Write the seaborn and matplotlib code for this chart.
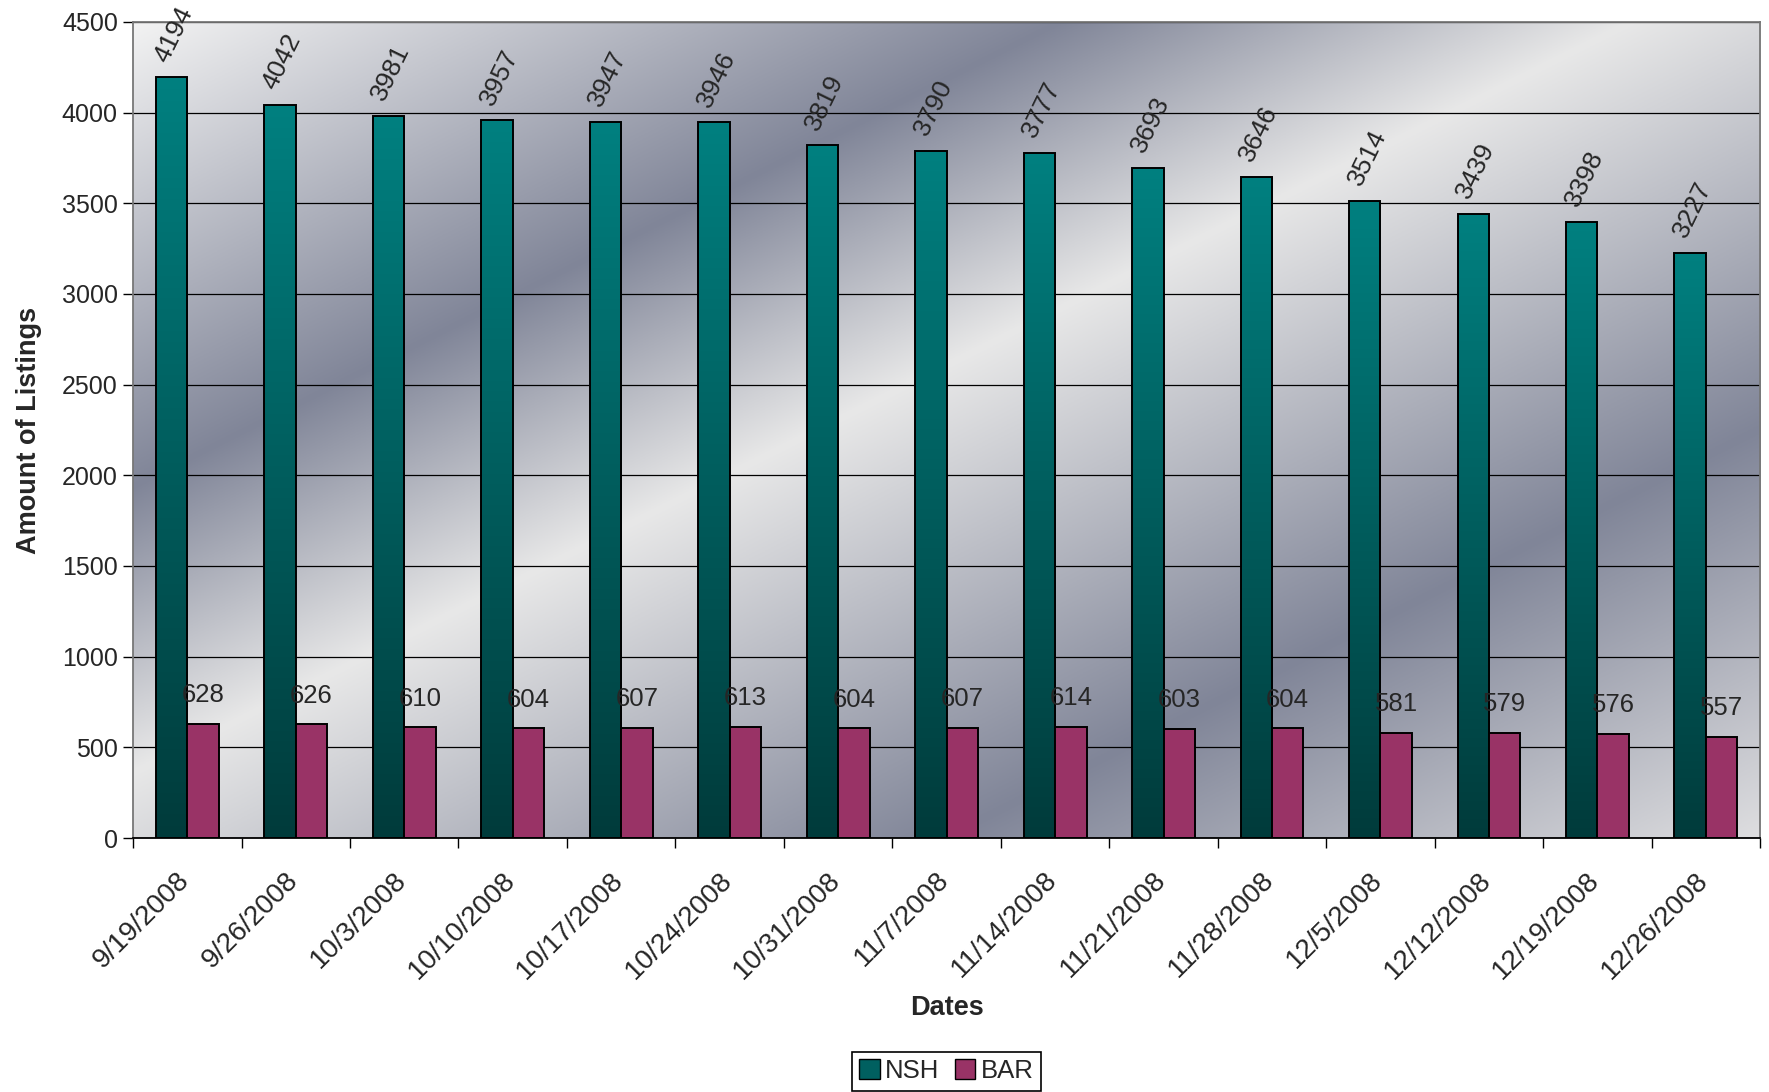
import numpy as np
import pandas as pd
import seaborn as sns
import matplotlib.pyplot as plt
from matplotlib.colors import LinearSegmentedColormap
from matplotlib.patches import Patch

# Weekly listing counts
dates = ['9/19/2008', '9/26/2008', '10/3/2008', '10/10/2008', '10/17/2008',
         '10/24/2008', '10/31/2008', '11/7/2008', '11/14/2008', '11/21/2008',
         '11/28/2008', '12/5/2008', '12/12/2008', '12/19/2008', '12/26/2008']
nsh = [4194, 4042, 3981, 3957, 3947, 3946, 3819, 3790, 3777, 3693,
       3646, 3514, 3439, 3398, 3227]
bar = [628, 626, 610, 604, 607, 613, 604, 607, 614, 603,
       604, 581, 579, 576, 557]
series = ['NSH', 'BAR']
yticks = list(range(0, 4501, 500))

df = pd.DataFrame({
    'date': dates * 2,
    'series': ['NSH'] * len(dates) + ['BAR'] * len(dates),
    'count': nsh + bar,
})

sns.set_style('white')
plt.rcParams['font.family'] = ['Liberation Sans', 'DejaVu Sans']

fig = plt.figure(figsize=(17.69, 10.92), dpi=100)
ax = fig.add_axes([0.0752, 0.2326, 0.9198, 0.7473])

# diagonal banded grey background (Excel style fill)
nx, ny = 600, 300
fx = np.linspace(0, 1, nx)[None, :]
fy = np.linspace(0, 1, ny)[:, None]
u = fx + fy
stops = [0.0, 0.57, 0.92, 1.5, 2.0]
cols = np.array([[243, 243, 243], [128, 133, 152], [232, 232, 232],
                 [128, 133, 152], [222, 222, 224]]) / 255.0
bg = np.stack([np.interp(u, stops, cols[:, i]) for i in range(3)], axis=-1)
ax.imshow(bg, extent=(0, 1, 0, 1), transform=ax.transAxes, aspect='auto',
          origin='upper', zorder=0)

sns.barplot(data=df, x='date', y='count', hue='series', hue_order=series,
            palette={'NSH': '#008080', 'BAR': '#993366'}, width=0.58,
            saturation=1, edgecolor='black', linewidth=1.4, legend=False,
            zorder=2, ax=ax)

# vertical gradient on the NSH bars
teal = LinearSegmentedColormap.from_list('teal', ['#003b3b', '#008080'])
grad = np.linspace(0, 1, 256)[:, None]
for p in ax.containers[0]:
    x0, w, h = p.get_x(), p.get_width(), p.get_height()
    im = ax.imshow(grad, extent=(x0, x0 + w, 0, h), origin='lower',
                   cmap=teal, aspect='auto', zorder=1.5)
    im.set_clip_path(p)
    p.set_facecolor('none')

# value labels
for p, v in zip(ax.containers[0], nsh):
    ax.annotate(str(v), (p.get_x() + p.get_width() / 2, p.get_height()),
                xytext=(-3, 10), textcoords='offset points', rotation=64,
                rotation_mode='anchor', ha='left', va='baseline', fontsize=19)
for p, v in zip(ax.containers[1], bar):
    ax.annotate(str(v), (p.get_x() + p.get_width() / 2, p.get_height()),
                xytext=(0, 12), textcoords='offset points',
                ha='center', va='bottom', fontsize=18.5)

ax.set_xlim(-0.5, len(dates) - 0.5)
ax.set_ylim(0, 4500)
ax.set_yticks(yticks)
ax.yaxis.grid(True, color='black', linewidth=0.9)
ax.set_axisbelow(True)

# labels sit a little left of the category centre, ticks on the boundaries
ax.set_xticks(np.arange(len(dates)) - 0.1)
ax.set_xticklabels(dates, rotation=45, ha='right', va='top',
                   rotation_mode='anchor')
ax.set_xticks(np.arange(-0.5, len(dates), 1), minor=True)
ax.tick_params(axis='x', which='major', length=0, pad=21, labelsize=20)
ax.tick_params(axis='x', which='minor', length=7, width=1, direction='out',
               color='black')
ax.tick_params(axis='y', length=7, width=1, direction='out', color='black',
               labelsize=18, pad=4)
ax.tick_params(axis='both', which='both', bottom=True, left=True)

for s in ['top', 'right', 'left']:
    ax.spines[s].set_color('#777777')
    ax.spines[s].set_linewidth(1.3)
ax.spines['bottom'].set_color('black')
ax.spines['bottom'].set_linewidth(1.3)

ax.set_xlabel('Dates', fontsize=19.5, fontweight='bold', labelpad=8)
ax.set_ylabel('Amount of Listings', fontsize=19.5, fontweight='bold',
              labelpad=14)

handles = [Patch(facecolor='#006060', edgecolor='black', label='NSH'),
           Patch(facecolor='#993366', edgecolor='black', label='BAR')]
leg = fig.legend(handles=handles, loc='center', bbox_to_anchor=(0.535, 0.019),
                 ncol=2, fontsize=18.5, frameon=True, fancybox=False,
                 edgecolor='black', framealpha=1, handlelength=0.8,
                 handleheight=0.8, handletextpad=0.2, columnspacing=0.6,
                 borderpad=0.3)
leg.get_frame().set_linewidth(1.2)

fig.savefig('out.png', dpi=100)
